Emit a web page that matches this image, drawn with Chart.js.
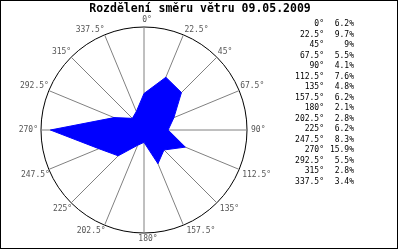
<!DOCTYPE html>
<html lang="cs">
<head>
    <meta charset="UTF-8">
    <title>Rozdělení směru větru</title>
    <script src="https://cdn.jsdelivr.net/npm/chart.js"></script>
    <style>
        body { margin: 0; background: #fff; }
        #chartContainer { width: 400px; height: 250px; }
    </style>
</head>
<body>
    <div id="chartContainer">
        <canvas id="myChart" width="400" height="250"></canvas>
    </div>
    <script>
        // wind directions and share of time (%)
        const directions = ['0°', '22.5°', '45°', '67.5°', '90°', '112.5°', '135°', '157.5°',
                            '180°', '202.5°', '225°', '247.5°', '270°', '292.5°', '315°', '337.5°'];
        const shares = [6.2, 9.7, 9, 5.5, 4.1, 7.6, 4.8, 6.2, 2.1, 2.8, 6.2, 8.3, 15.9, 5.5, 2.8, 3.4];
        const title = 'Rozdělení směru větru 09.05.2009';
        const scaleMax = 17.5;

        const labelFont = '8px "DejaVu Sans Mono"';

        // draws title, direction labels, the value table and the frame
        const decorPlugin = {
            id: 'decor',
            afterDraw(chart) {
                const ctx = chart.ctx;
                const scale = chart.scales.r;
                const n = directions.length;
                ctx.save();

                // direction labels round the circle
                ctx.font = labelFont;
                ctx.fillStyle = '#555';
                for (let i = 0; i < n; i++) {
                    const p = scale.getPointPosition(i, scale.drawingArea);
                    let x = p.x, y = p.y;
                    ctx.textBaseline = 'middle';
                    if (i === 0) { ctx.textAlign = 'center'; x += 3; y -= 7; }
                    else if (i === 8) { ctx.textAlign = 'center'; x += 4; y += 6; }
                    else if (i === 4) { ctx.textAlign = 'left'; x += 4; }
                    else if (i === 12) { ctx.textAlign = 'right'; x -= 3; }
                    else if (i < 4) { ctx.textAlign = 'left'; x += 1; y -= 5; }
                    else if (i < 8) { ctx.textAlign = 'left'; x += 3; y += 6; }
                    else if (i < 12) { ctx.textAlign = 'right'; x += 1; y += 6; }
                    else { ctx.textAlign = 'right'; y -= 5; }
                    ctx.fillText(directions[i], x, y);
                }

                // value table on the right
                ctx.fillStyle = '#000';
                ctx.textBaseline = 'middle';
                ctx.textAlign = 'right';
                for (let i = 0; i < n; i++) {
                    const y = 24 + i * 10.5;
                    ctx.fillText(directions[i], 324, y);
                    ctx.fillText(shares[i] + '%', 354, y);
                }

                // title
                ctx.font = 'bold 11.5px "DejaVu Sans Mono"';
                ctx.textAlign = 'center';
                ctx.fillText(title, 200, 9);

                // frame
                ctx.strokeStyle = '#000';
                ctx.lineWidth = 1;
                ctx.strokeRect(0.5, 0.5, 397, 248);
                ctx.restore();
            }
        };

        const ctx = document.getElementById('myChart').getContext('2d');
        const myChart = new Chart(ctx, {
            type: 'radar',
            data: {
                labels: directions,
                datasets: [{
                    label: 'Směr větru',
                    data: shares,
                    backgroundColor: '#0000ff',
                    borderColor: '#0000ff',
                    borderWidth: 1,
                    fill: true,
                    pointRadius: 0,
                    tension: 0
                }]
            },
            options: {
                responsive: false,
                animation: false,
                layout: {
                    padding: { left: 41, top: 27, right: 153, bottom: 17 }
                },
                plugins: {
                    legend: { display: false },
                    tooltip: { enabled: false }
                },
                scales: {
                    r: {
                        min: 0,
                        max: scaleMax,
                        ticks: { display: false, stepSize: scaleMax },
                        grid: { circular: true, color: '#000', lineWidth: 1 },
                        angleLines: { color: '#808080', lineWidth: 1 },
                        pointLabels: { display: false }
                    }
                }
            },
            plugins: [decorPlugin]
        });
    </script>
</body>
</html>
